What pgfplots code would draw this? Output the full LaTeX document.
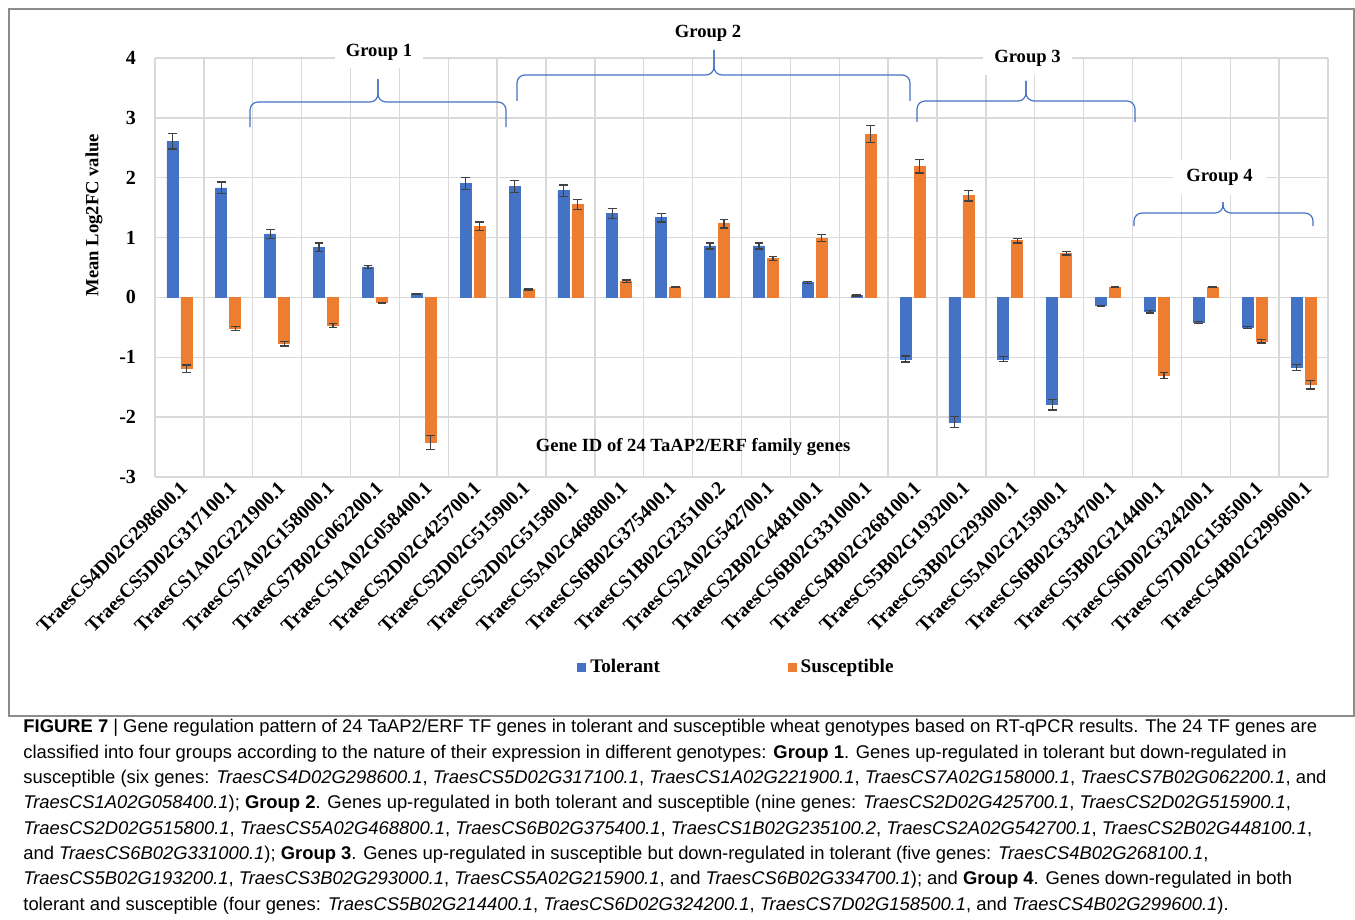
\documentclass[border=0pt]{standalone}
\usepackage{fontspec}
\setmainfont{Liberation Serif}
\newfontfamily\capfont{Liberation Sans}
\usepackage{pgfplots}
\pgfplotsset{compat=1.18}
\usepackage{pgfplotstable}
\definecolor{xblue}{HTML}{4472C4}
\definecolor{xorange}{HTML}{ED7D31}
\definecolor{xgrid}{HTML}{D9D9D9}
\definecolor{xerr}{HTML}{404040}
\definecolor{xframe}{HTML}{8C8C8C}

\pgfplotstableread{
idx T Terr S Serr
0 2.61 0.13 -1.19 0.06
1 1.83 0.10 -0.52 0.03
2 1.06 0.07 -0.77 0.04
3 0.84 0.07 -0.47 0.03
4 0.51 0.03 -0.09 0.01
5 0.06 0.01 -2.42 0.12
6 1.90 0.10 1.19 0.07
7 1.85 0.10 0.13 0.01
8 1.78 0.10 1.55 0.08
9 1.40 0.08 0.27 0.02
10 1.33 0.07 0.17 0.01
11 0.86 0.05 1.23 0.07
12 0.86 0.05 0.65 0.03
13 0.25 0.02 0.99 0.06
14 0.03 0.01 2.73 0.14
15 -1.03 0.05 2.19 0.11
16 -2.08 0.09 1.70 0.09
17 -1.03 0.04 0.95 0.04
18 -1.79 0.09 0.74 0.03
19 -0.14 0.01 0.17 0.01
20 -0.24 0.02 -1.30 0.05
21 -0.42 0.02 0.17 0.01
22 -0.50 0.02 -0.73 0.03
23 -1.17 0.05 -1.46 0.07
}\data

\newcommand\gfont{\fontsize{9.3}{11}\selectfont\bfseries}

\begin{document}
\begin{tikzpicture}
\useasboundingbox (-77.5pt,-221.5pt) rectangle (600pt,238.5pt);
\draw[xframe, line width=0.6pt] (-73pt,-119.5pt) rectangle (599.5pt,234pt);
\begin{axis}[
  at={(0,0)}, anchor=south west,
  scale only axis, width=586.5pt, height=209.5pt,
  xmin=-0.5, xmax=23.5, ymin=-3, ymax=4,
  ybar=1.5pt, bar width=5.5pt,
  axis line style={draw=none},
  major tick length=0pt, minor tick length=0pt,
  xtick={0,...,23},
  xticklabels={TraesCS4D02G298600.1, TraesCS5D02G317100.1, TraesCS1A02G221900.1, TraesCS7A02G158000.1, TraesCS7B02G062200.1, TraesCS1A02G058400.1, TraesCS2D02G425700.1, TraesCS2D02G515900.1, TraesCS2D02G515800.1, TraesCS5A02G468800.1, TraesCS6B02G375400.1, TraesCS1B02G235100.2, TraesCS2A02G542700.1, TraesCS2B02G448100.1, TraesCS6B02G331000.1, TraesCS4B02G268100.1, TraesCS5B02G193200.1, TraesCS3B02G293000.1, TraesCS5A02G215900.1, TraesCS6B02G334700.1, TraesCS5B02G214400.1, TraesCS6D02G324200.1, TraesCS7D02G158500.1, TraesCS4B02G299600.1},
  minor xtick={-0.5,0.5,...,23.5},
  xminorgrids=true, xmajorgrids=false, ymajorgrids=true,
  major grid style={xgrid, line width=0.7pt},
  minor grid style={xgrid, line width=0.7pt},
  ytick={-3,...,4}, yticklabels={-3,-2,-1,0,1,2,3,4},
  yticklabel style={font=\fontsize{10}{12}\selectfont\bfseries, xshift=-6pt},
  xticklabel style={font=\fontsize{9.8}{12}\selectfont\bfseries, rotate=45, anchor=north east, inner sep=1pt},
  ylabel={Mean Log2FC value},
  ylabel style={at={(axis description cs:-0.052,0.625)}, anchor=center, font=\gfont},
  clip=false,
  legend columns=2,
  legend style={at={(0.4966,-0.4535)}, anchor=center, draw=none, fill=none,
    font=\fontsize{9.6}{11}\selectfont\bfseries,
    /tikz/every even column/.append style={column sep=62pt}},
  legend image code/.code={\fill[#1] (0pt,-2pt) rectangle (4pt,2pt);},
]
\addplot[fill=xblue, draw=xblue,
  error bars/.cd, y dir=both, y explicit,
  error bar style={xerr, line width=0.6pt},
  error mark options={xerr, rotate=90, mark size=2.2pt, line width=0.6pt}]
  table[x=idx, y=T, y error=Terr]{\data};
\addlegendentry{Tolerant}
\addplot[fill=xorange, draw=xorange,
  error bars/.cd, y dir=both, y explicit,
  error bar style={xerr, line width=0.6pt},
  error mark options={xerr, rotate=90, mark size=2.2pt, line width=0.6pt}]
  table[x=idx, y=S, y error=Serr]{\data};
\addlegendentry{Susceptible}

% group labels
\node[fill=white, inner sep=0pt, minimum width=44pt, minimum height=16pt, font=\gfont] at (4.083,4.100) {Group 1};
\node[inner sep=0pt, font=\gfont] at (10.815,4.418) {Group 2};
\node[fill=white, inner sep=0pt, minimum width=44.5pt, minimum height=17pt, font=\gfont] at (17.351,4.000) {Group 3};
\node[fill=white, inner sep=0pt, minimum width=46.5pt, minimum height=17.5pt, font=\gfont] at (21.280,2.003) {Group 4};
\node[inner sep=0pt, font=\gfont] at (10.508,-2.499) {Gene ID of 24 TaAP2/ERF family genes};

% braces
\begin{scope}[xblue, line width=0.6pt, rounded corners=4pt]
\draw (1.444,2.847) -- (1.444,3.265) -- (4.063,3.265) -- (4.063,3.649);
\draw (4.063,3.649) -- (4.063,3.265) -- (6.682,3.265) -- (6.682,2.847);
\draw (6.907,3.282) -- (6.907,3.717) -- (10.937,3.717) -- (10.937,4.134);
\draw (10.937,4.134) -- (10.937,3.717) -- (14.948,3.717) -- (14.948,3.282);
\draw (15.091,2.935) -- (15.091,3.282) -- (17.321,3.282) -- (17.321,3.616);
\draw (17.321,3.616) -- (17.321,3.282) -- (19.551,3.282) -- (19.551,2.935);
\draw (19.531,1.193) -- (19.531,1.410) -- (21.352,1.410) -- (21.352,1.594);
\draw (21.352,1.594) -- (21.352,1.410) -- (23.193,1.410) -- (23.193,1.193);
\end{scope}
\end{axis}

\node[anchor=base west, align=left, inner sep=0pt, font=\capfont\fontsize{9.2}{12.65}\selectfont] at (-66pt,-216.5pt) {%
\textbf{FIGURE 7} | Gene regulation pattern of 24 TaAP2/ERF TF genes in tolerant and susceptible wheat genotypes based on RT-qPCR results. The 24 TF genes are\\
classified into four groups according to the nature of their expression in different genotypes: \textbf{Group 1}. Genes up-regulated in tolerant but down-regulated in\\
susceptible (six genes: \textit{TraesCS4D02G298600.1}, \textit{TraesCS5D02G317100.1}, \textit{TraesCS1A02G221900.1}, \textit{TraesCS7A02G158000.1}, \textit{TraesCS7B02G062200.1}, and\\
\textit{TraesCS1A02G058400.1}); \textbf{Group 2}. Genes up-regulated in both tolerant and susceptible (nine genes: \textit{TraesCS2D02G425700.1}, \textit{TraesCS2D02G515900.1},\\
\textit{TraesCS2D02G515800.1}, \textit{TraesCS5A02G468800.1}, \textit{TraesCS6B02G375400.1}, \textit{TraesCS1B02G235100.2}, \textit{TraesCS2A02G542700.1}, \textit{TraesCS2B02G448100.1},\\
and \textit{TraesCS6B02G331000.1}); \textbf{Group 3}. Genes up-regulated in susceptible but down-regulated in tolerant (five genes: \textit{TraesCS4B02G268100.1},\\
\textit{TraesCS5B02G193200.1}, \textit{TraesCS3B02G293000.1}, \textit{TraesCS5A02G215900.1}, and \textit{TraesCS6B02G334700.1}); and \textbf{Group 4}. Genes down-regulated in both\\
tolerant and susceptible (four genes: \textit{TraesCS5B02G214400.1}, \textit{TraesCS6D02G324200.1}, \textit{TraesCS7D02G158500.1}, and \textit{TraesCS4B02G299600.1}).};
\end{tikzpicture}
\end{document}
